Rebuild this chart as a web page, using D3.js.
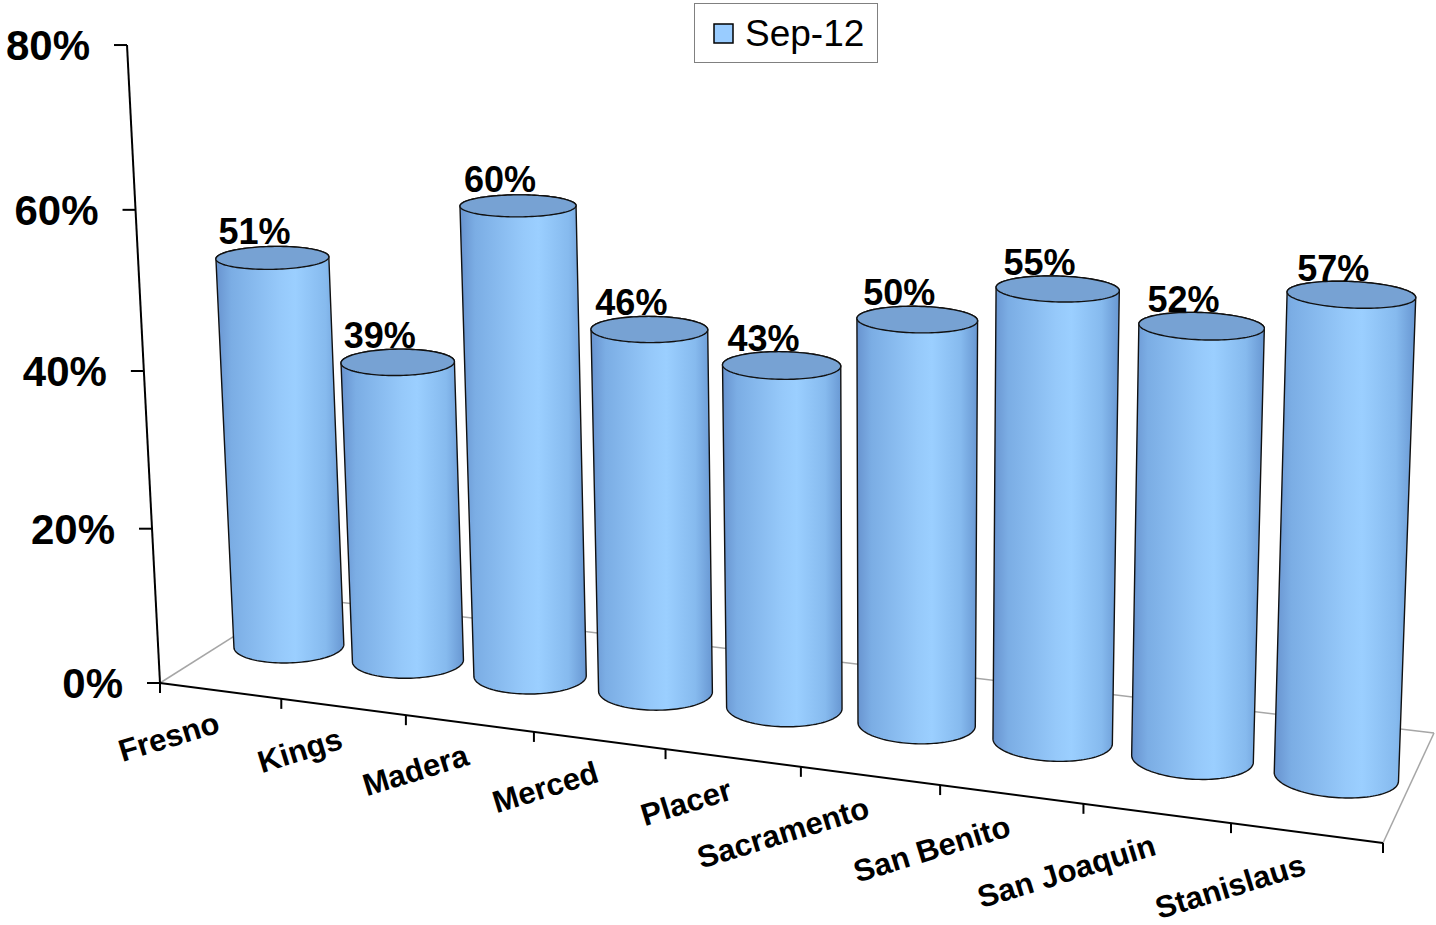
<!DOCTYPE html>
<html>
<head>
<meta charset="utf-8">
<script src="https://cdn.jsdelivr.net/npm/d3@7"></script>
<style>
  body { margin: 0; background: #fff; }
  svg { display: block; font-family: Arial, "Liberation Sans", sans-serif; }
</style>
</head>
<body>
<div id="chart"></div>
<script>
var categories = ["Fresno", "Kings", "Madera", "Merced", "Placer", "Sacramento", "San Benito", "San Joaquin", "Stanislaus"];
var values = [51, 39, 60, 46, 43, 50, 55, 52, 57];
var seriesName = "Sep-12";
var yTicks = [0, 20, 40, 60, 80];

var width = 1436, height = 925;

var svg = d3.select("#chart").append("svg")
    .attr("width", width)
    .attr("height", height);

// u: along categories (0..1), w: depth of floor (0 front .. 1 back), h: value (0..1)
var xScale = d3.scaleBand().domain(categories).range([0, 1]);
var yScale = d3.scaleLinear().domain([0, 80]).range([0, 1]);

// floor corners on screen: front-left, front-right, back-right, back-left
var floor = [[160, 683], [1383, 843], [1434, 733], [296, 597]];
// vertical column of the camera (per unit of h)
var vert = {x: -38.45, y: -639.9, w: -0.04294};

function squareToQuad(q) {
    var x0 = q[0][0], y0 = q[0][1], x1 = q[1][0], y1 = q[1][1],
        x2 = q[2][0], y2 = q[2][1], x3 = q[3][0], y3 = q[3][1];
    var dx1 = x1 - x2, dx2 = x3 - x2, dx3 = x0 - x1 + x2 - x3,
        dy1 = y1 - y2, dy2 = y3 - y2, dy3 = y0 - y1 + y2 - y3;
    var den = dx1 * dy2 - dx2 * dy1;
    var g = (dx3 * dy2 - dx2 * dy3) / den,
        h = (dx1 * dy3 - dx3 * dy1) / den;
    return {
        a: x1 - x0 + g * x1, b: x3 - x0 + h * x3, c: x0,
        d: y1 - y0 + g * y1, e: y3 - y0 + h * y3, f: y0,
        g: g, h: h
    };
}
var H = squareToQuad(floor);

function project(u, w, h) {
    var X = H.a * u + H.b * w + H.c + vert.x * h,
        Y = H.d * u + H.e * w + H.f + vert.y * h,
        W = H.g * u + H.h * w + 1 + vert.w * h;
    return [X / W, Y / W];
}

var defs = svg.append("defs");
var grad = defs.append("linearGradient")
    .attr("id", "cyl-body")
    .attr("x1", 0).attr("x2", 1).attr("y1", 0).attr("y2", 0);
[[0, "#6893cf"], [0.12, "#7badE4"], [0.5, "#96c9fa"], [0.62, "#9bcfff"], [0.86, "#86baee"], [1, "#6897d2"]]
    .forEach(function(s) {
        grad.append("stop").attr("offset", s[0]).attr("stop-color", s[1]);
    });

// floor edges
var floorEdges = svg.append("g").classed("floor", true);
[[[0, 0], [0, 1]], [[0, 1], [1, 1]], [[1, 0], [1, 1]]].forEach(function(e) {
    var p = project(e[0][0], e[0][1], 0), q = project(e[1][0], e[1][1], 0);
    floorEdges.append("line")
        .attr("x1", p[0]).attr("y1", p[1]).attr("x2", q[0]).attr("y2", q[1])
        .style("stroke", "#a6a6a6")
        .style("stroke-width", 1.5);
});

// value axis
var yAxis = svg.append("g").classed("y-axis", true);
var yBottom = project(0, 0, 0), yTop = project(0, 0, yScale(80));
yAxis.append("line")
    .attr("x1", yBottom[0]).attr("y1", yBottom[1]).attr("x2", yTop[0]).attr("y2", yTop[1])
    .style("stroke", "#000").style("stroke-width", 2);
yTicks.forEach(function(t) {
    var p = project(0, 0, yScale(t));
    yAxis.append("line")
        .attr("x1", p[0] - 13).attr("y1", p[1]).attr("x2", p[0]).attr("y2", p[1])
        .style("stroke", "#000").style("stroke-width", 2);
    yAxis.append("text")
        .attr("x", p[0] - 37)
        .attr("y", p[1] + 15)
        .attr("text-anchor", "end")
        .style("font-size", "42px")
        .style("font-weight", "bold")
        .text(t + "%");
});

// category axis (front edge of the floor)
var xAxis = svg.append("g").classed("x-axis", true);
var xLeft = project(0, 0, 0), xRight = project(1, 0, 0);
xAxis.append("line")
    .attr("x1", xLeft[0]).attr("y1", xLeft[1]).attr("x2", xRight[0]).attr("y2", xRight[1])
    .style("stroke", "#000").style("stroke-width", 2);
d3.range(categories.length + 1).forEach(function(k) {
    var p = project(k * xScale.step(), 0, 0);
    xAxis.append("line")
        .attr("x1", p[0]).attr("y1", p[1]).attr("x2", p[0]).attr("y2", p[1] + 10)
        .style("stroke", "#000").style("stroke-width", 2);
});
categories.forEach(function(c) {
    var p = project(xScale(c) + xScale.bandwidth() / 2, 0, 0);
    xAxis.append("text")
        .attr("transform", "translate(" + (p[0] + 1) + "," + (p[1] + 41) + ") rotate(-17)")
        .attr("text-anchor", "end")
        .style("font-size", "31px")
        .style("font-weight", "bold")
        .text(c);
});

// cylinders
var rU = xScale.bandwidth() * 0.42, rW = 0.183;
var angles = d3.range(0, 360, 3).map(function(d) { return d * Math.PI / 180; });
var line = d3.line().curve(d3.curveLinearClosed);

function ring(uc, h) {
    return angles.map(function(t) {
        return project(uc + rU * Math.cos(t), 0.5 + rW * Math.sin(t), h);
    });
}

function arcIndices(from, to, n) {
    var out = [];
    for (var k = from; ; k = (k + 1) % n) {
        out.push(k);
        if (k === to) break;
    }
    return out;
}

var bars = svg.append("g").classed("bars", true);
var labelSpots = [];
categories.forEach(function(c, i) {
    var uc = xScale(c) + xScale.bandwidth() / 2;
    var h = yScale(values[i]);
    var bottom = ring(uc, 0), top = ring(uc, h);
    var n = angles.length;

    var iL = d3.minIndex(bottom, function(p) { return p[0]; }),
        iR = d3.maxIndex(bottom, function(p) { return p[0]; });
    var arcA = arcIndices(iL, iR, n), arcB = arcIndices(iR, iL, n);
    // the front arc is the one lying lower on screen
    var meanA = d3.mean(arcA, function(k) { return bottom[k][1]; }),
        meanB = d3.mean(arcB, function(k) { return bottom[k][1]; });
    var frontArc = meanA > meanB ? arcA : arcB.slice().reverse();
    var backArc = meanA > meanB ? arcB : arcA.slice().reverse();
    var outline = frontArc.map(function(k) { return bottom[k]; })
        .concat(backArc.map(function(k) { return top[k]; }));

    var g = bars.append("g").classed("bar", true);
    g.append("path")
        .attr("d", line(outline))
        .style("fill", "url(#cyl-body)")
        .style("stroke", "#111")
        .style("stroke-width", 1.4);
    g.append("path")
        .attr("d", line(top))
        .style("fill", "#77a2d3")
        .style("stroke", "#111")
        .style("stroke-width", 1.4);

    var centre = project(uc, 0.5, h);
    labelSpots.push({x: centre[0] - 18, y: centre[1] - 14, text: values[i] + "%"});
});

svg.append("g").classed("data-labels", true)
    .selectAll("text")
    .data(labelSpots)
    .enter()
    .append("text")
        .attr("x", function(d) { return d.x; })
        .attr("y", function(d) { return d.y; })
        .attr("text-anchor", "middle")
        .style("font-size", "36px")
        .style("font-weight", "bold")
        .text(function(d) { return d.text; });

// legend
var legend = svg.append("g").classed("legend", true);
legend.append("rect")
    .attr("x", 694.5).attr("y", 3.5).attr("width", 183).attr("height", 59)
    .style("fill", "#fff").style("stroke", "#808080").style("stroke-width", 1);
legend.append("rect")
    .attr("x", 714).attr("y", 24).attr("width", 19).attr("height", 19)
    .style("fill", "#99ccff").style("stroke", "#000").style("stroke-width", 1.5);
legend.append("text")
    .attr("x", 745).attr("y", 46)
    .style("font-size", "37px")
    .text(seriesName);
</script>
</body>
</html>
